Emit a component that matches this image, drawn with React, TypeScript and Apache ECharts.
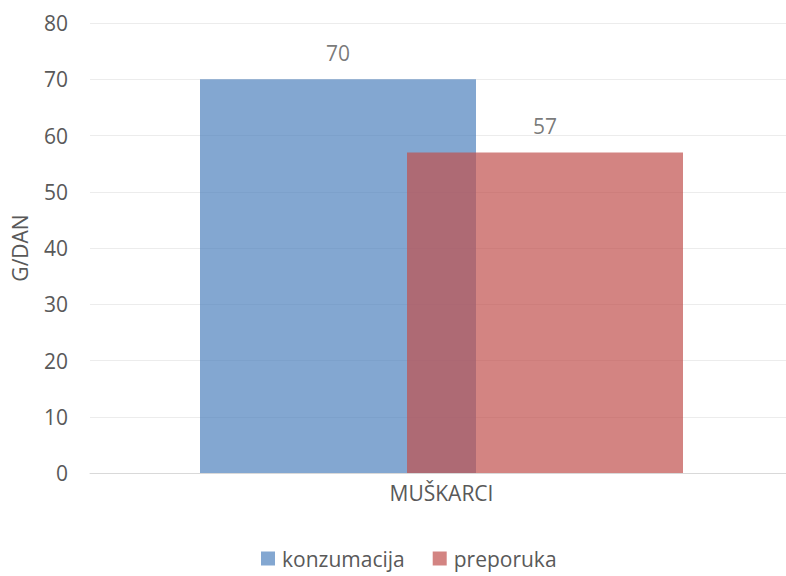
import React, { useEffect, useRef } from "react";
import * as echarts from "echarts";

const categories = ["MUŠKARCI"];
const seriesNames = ["konzumacija", "preporuka"];
const konzumacija = [70];
const preporuka = [57];
const yTicks = { min: 0, max: 80, interval: 10 };
const yName = "G/DAN";

export default function App() {
  const ref = useRef<HTMLDivElement>(null);
  useEffect(() => {
    document.body.style.margin = "0";
    const chart = echarts.init(ref.current!, null, { renderer: "svg" });
    const font = "'Open Sans', 'Noto Sans', sans-serif";
    chart.setOption({
      animation: false,
      textStyle: { fontFamily: font },
      grid: { left: 90, right: -7, top: 23, bottom: 103, containLabel: false, outerBoundsMode: "none" },
      legend: {
        bottom: 2,
        left: 256,
        itemWidth: 14,
        itemHeight: 14,
        itemGap: 28,
        icon: "rect",
        textStyle: { fontSize: 21, color: "#595959", fontFamily: font, padding: [0, 0, 0, 2] },
        data: seriesNames,
      },
      xAxis: {
        type: "category",
        data: categories,
        axisLine: { show: true, lineStyle: { color: "#d9d9d9" } },
        axisTick: { show: false },
        axisLabel: { fontSize: 21, color: "#595959", margin: 9, fontFamily: font },
      },
      yAxis: {
        type: "value",
        min: yTicks.min,
        max: yTicks.max,
        interval: yTicks.interval,
        name: yName,
        nameLocation: "middle",
        nameGap: 60,
        nameRotate: 90,
        nameTextStyle: { fontSize: 21, color: "#595959", fontFamily: font },
        axisLine: { show: false },
        axisTick: { show: false },
        axisLabel: { fontSize: 21, color: "#595959", margin: 22, fontFamily: font },
        splitLine: { lineStyle: { color: "#ececec", width: 1 } },
      },
      series: [
        {
          name: seriesNames[0],
          type: "bar",
          data: konzumacija,
          barWidth: 276,
          barGap: "-25%",
          itemStyle: { color: "#4F81BD", opacity: 0.7 },
          label: { show: true, position: "top", distance: 16, fontSize: 21, color: "#404040", fontFamily: font },
        },
        {
          name: seriesNames[1],
          type: "bar",
          data: preporuka,
          barWidth: 276,
          itemStyle: { color: "#C0504D", opacity: 0.7 },
          label: { show: true, position: "top", distance: 16, fontSize: 21, color: "#404040", fontFamily: font },
        },
      ],
    });
    return () => chart.dispose();
  }, []);
  return <div ref={ref} style={{ width: 786, height: 576 }} />;
}
